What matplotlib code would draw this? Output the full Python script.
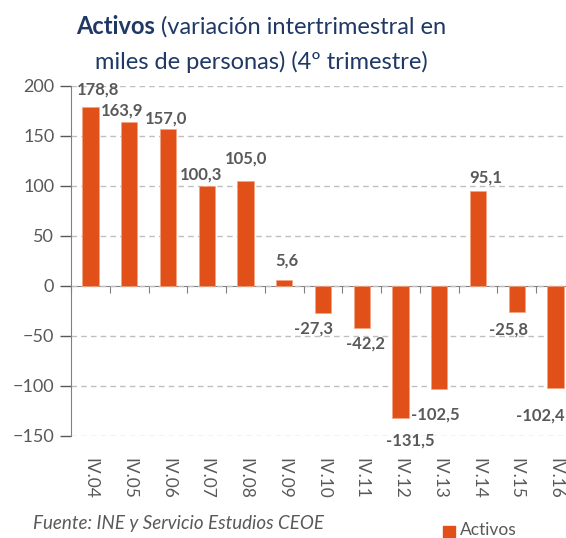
import matplotlib.pyplot as plt
import numpy as np

# === Datos ===
trimestres = ["IV.04", "IV.05", "IV.06", "IV.07", "IV.08", "IV.09", "IV.10",
              "IV.11", "IV.12", "IV.13", "IV.14", "IV.15", "IV.16"]
activos = [178.8, 163.9, 157.0, 100.3, 105.0, 5.6, -27.3,
           -42.2, -131.5, -102.5, 95.1, -25.8, -102.4]

# desplazamiento de etiquetas (px) para imitar la colocación de Excel
label_dx = [8, -7, -2, -6, 1, 3, -10, 4, 10, -4, 8, -8, -15]
label_dy = [18, 12, 10, 11, 22, 20, 15, 15, 23, 26, 13, 18, 27]

NARANJA = "#E2501A"
GRIS = "#595959"
AZUL = "#1F3864"
FONT = "Lato"

plt.rcParams["font.family"] = [FONT, "DejaVu Sans"]

fig = plt.figure(figsize=(5.66, 5.38), dpi=100)
W, H = 566, 538
# ejes en pixeles: x 71..575, y 86..436
ax = fig.add_axes([71 / W, 1 - 436 / H, 504 / W, 350 / H])

x = np.arange(len(trimestres))
ax.bar(x, activos, width=0.42, color=NARANJA, edgecolor="#F4A582",
       linewidth=0.5, zorder=3)

ax.set_xlim(-0.5, len(trimestres) - 0.5)
ax.set_ylim(-150, 200)
ax.set_yticks(range(-150, 201, 50))
ax.tick_params(axis="y", labelsize=13, colors=GRIS, length=8, width=1,
               direction="out", pad=4)
for lbl in ax.get_yticklabels():
    lbl.set_color(GRIS)

ax.set_xticks(x)
ax.set_xticklabels(trimestres, rotation=270, fontsize=12.5, color=GRIS)
ax.tick_params(axis="x", length=0, pad=16)

ax.yaxis.grid(True, color="#BFBFBF", linestyle=(0, (4, 3)), linewidth=1)
ax.set_axisbelow(True)

for side in ["top", "right", "bottom"]:
    ax.spines[side].set_visible(False)
ax.spines["left"].set_color("#808080")

# eje en cero con marcas entre categorias
sec = ax.secondary_xaxis(150 / 350)
sec.set_xticks(np.arange(-0.5, len(trimestres), 1.0))
sec.set_xticklabels([])
sec.tick_params(axis="x", direction="out", length=5, color="#808080")
sec.spines["bottom"].set_color("#808080")
sec.spines["top"].set_visible(False)

# etiquetas de datos
for i, v in enumerate(activos):
    txt = f"{v:.1f}".replace(".", ",")
    dy = label_dy[i] if v >= 0 else -label_dy[i]
    ax.annotate(txt, (x[i], v), xytext=(label_dx[i] * 0.72, dy * 0.72),
                textcoords="offset points", ha="center", va="center",
                fontsize=12, fontweight="bold", color=GRIS, zorder=4)

# titulo en dos lineas, "Activos" en negrita
fig.canvas.draw()
r = fig.canvas.get_renderer()
t_bold = fig.text(0, 0, "Activos", fontsize=17, fontweight="bold", color=AZUL)
t_rest = fig.text(0, 0, " (variación intertrimestral en", fontsize=17, color=AZUL)
wb = t_bold.get_window_extent(r).width
wr = t_rest.get_window_extent(r).width
cx = 261
x0 = cx - (wb + wr) / 2
t_bold.set_position((x0 / W, 1 - 27 / H))
t_rest.set_position(((x0 + wb) / W, 1 - 27 / H))
t_bold.set_va("center")
t_rest.set_va("center")
fig.text(cx / W, 1 - 62 / H, "miles de personas) (4º trimestre)", fontsize=17,
         color=AZUL, ha="center", va="center")

# fuente y leyenda
fig.text(33 / W, 1 - 524 / H, "Fuente: INE y Servicio Estudios CEOE",
         fontsize=13.5, style="italic", color=GRIS, va="center")
fig.patches.append(plt.Rectangle((443 / W, 1 - 538 / H), 12 / W, 12 / H,
                                 transform=fig.transFigure, color=NARANJA))
fig.text(460 / W, 1 - 530 / H, "Activos", fontsize=12.5, color=GRIS, va="center")

fig.savefig("out.png", dpi=100)
